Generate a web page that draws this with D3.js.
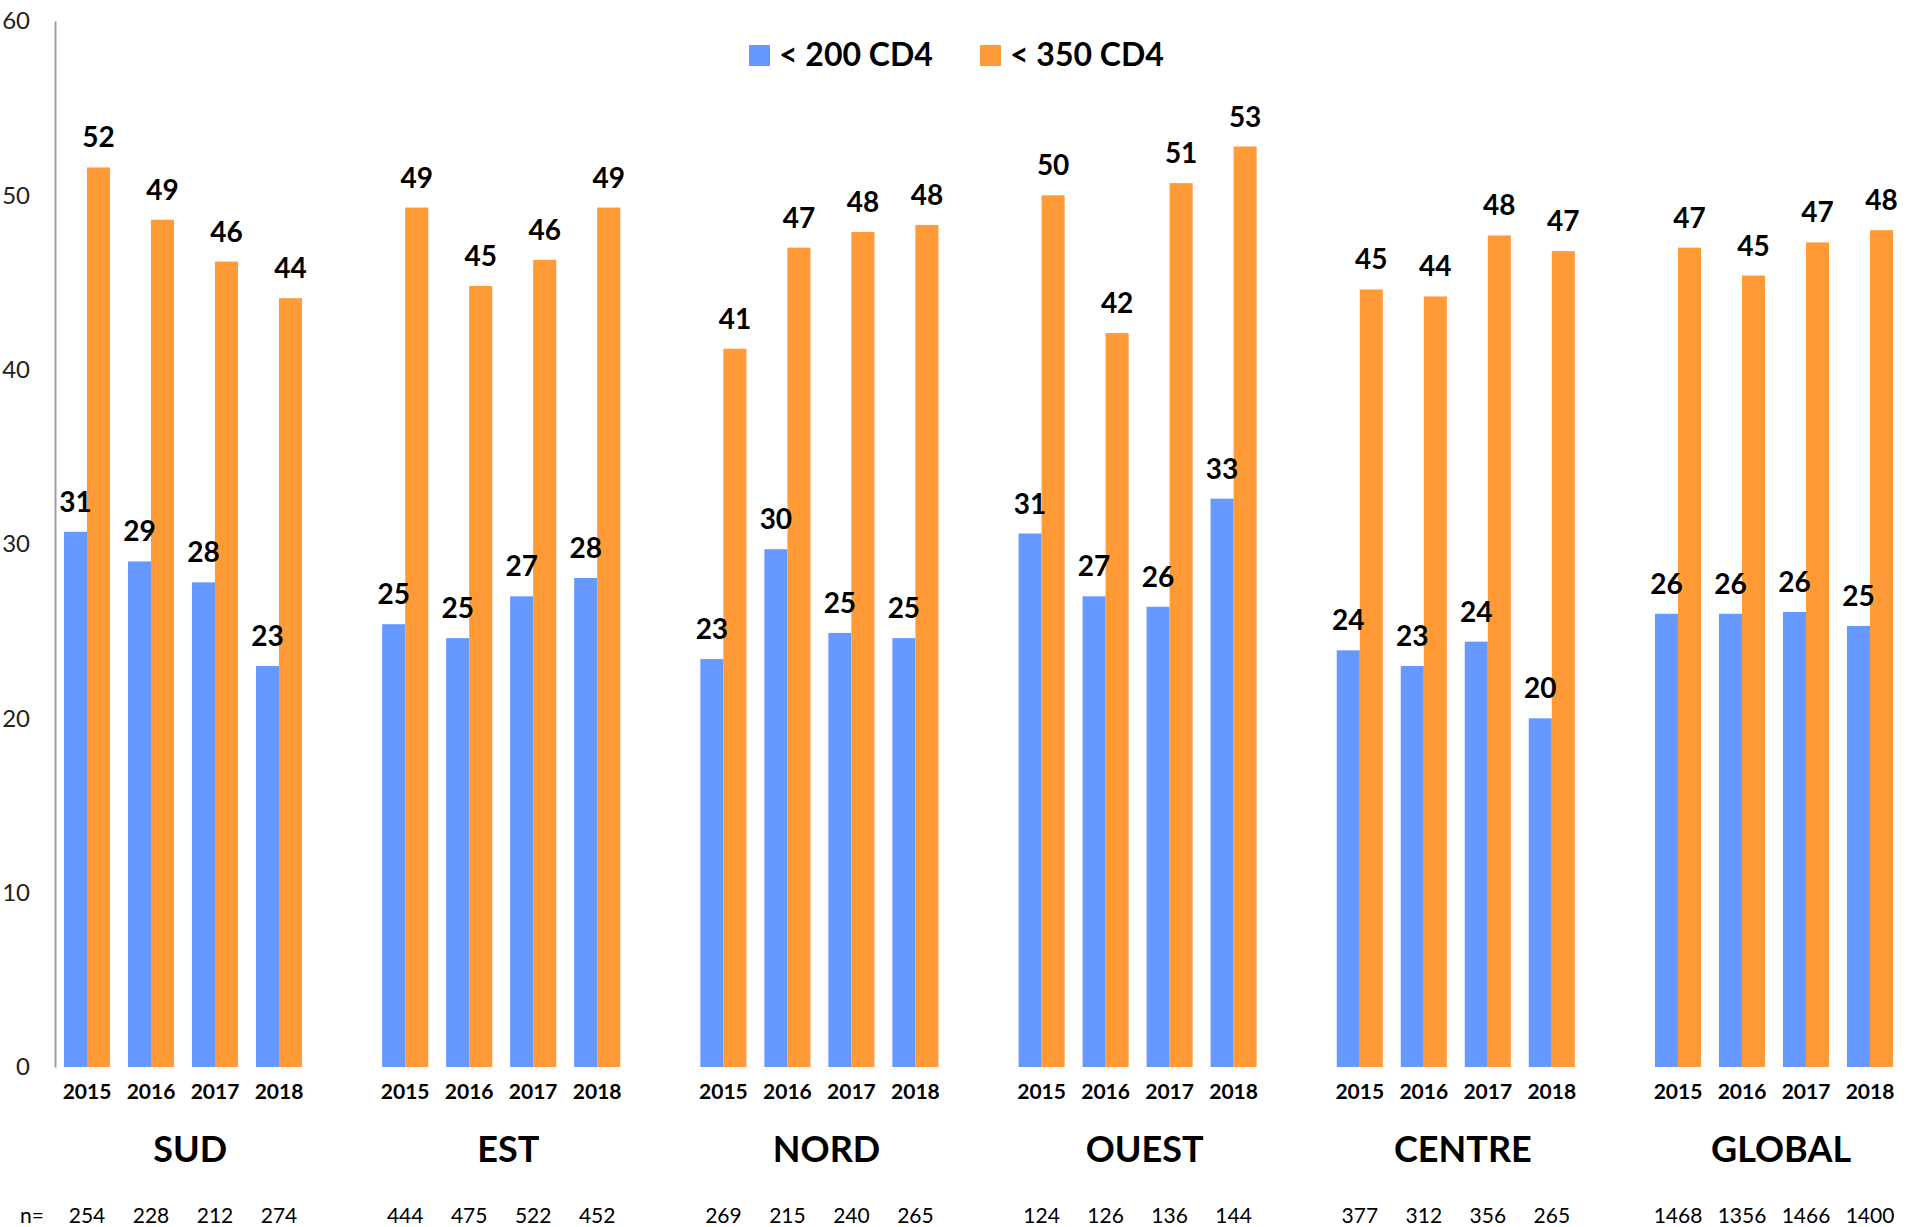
<!DOCTYPE html>
<html lang="fr">
<head>
<meta charset="UTF-8">
<title>CD4</title>
<script src="https://d3js.org/d3.v7.min.js"></script>
<style>
    body { margin: 0; background: #fff; }
    svg { display: block; font-family: Lato, "Open Sans", sans-serif; }
    .axis path { stroke: #a0a0a0; stroke-width: 2; }
    .axis line { display: none; }
    .axis text { font-size: 24px; fill: #222; font-family: Lato, sans-serif; }
</style>
</head>
<body>
<svg width="1907" height="1227"></svg>
<script>

    var regions = ['SUD', 'EST', 'NORD', 'OUEST', 'CENTRE', 'GLOBAL'];
    var years = ['2015', '2016', '2017', '2018'];
    var seriesNames = ['< 200 CD4', '< 350 CD4'];
    var colors = ['#6699ff', '#ff9a36'];

    // values per region, one per year
    var below200 = [
        [30.7, 29.0, 27.8, 23.0],
        [25.4, 24.6, 27.0, 28.05],
        [23.4, 29.7, 24.9, 24.6],
        [30.6, 27.0, 26.4, 32.6],
        [23.9, 23.0, 24.4, 20.0],
        [26.0, 26.0, 26.1, 25.3]
    ];
    var below350 = [
        [51.6, 48.6, 46.2, 44.1],
        [49.3, 44.8, 46.3, 49.3],
        [41.2, 47.0, 47.9, 48.3],
        [50.0, 42.1, 50.7, 52.8],
        [44.6, 44.2, 47.7, 46.8],
        [47.0, 45.4, 47.3, 48.0]
    ];
    var counts = [
        [254, 228, 212, 274],
        [444, 475, 522, 452],
        [269, 215, 240, 265],
        [124, 126, 136, 144],
        [377, 312, 356, 265],
        [1468, 1356, 1466, 1400]
    ];
    var yTicks = [0, 10, 20, 30, 40, 50, 60];

    var svg = d3.select('svg');

    var x0 = d3.scaleBand()
        .domain(regions)
        .range([24, 24 + 6 * 318.2]);

    var x1 = d3.scaleBand()
        .domain(years)
        .range([31, 287])
        .paddingInner(0.28)
        .paddingOuter(0.14);

    var x2 = d3.scaleBand()
        .domain([0, 1])
        .range([0, x1.bandwidth()]);

    var y = d3.scaleLinear()
        .domain([0, 60])
        .range([1067, 21]);

    var yAxis = d3.axisLeft(y)
        .tickValues(yTicks)
        .tickSize(0)
        .tickSizeOuter(0)
        .tickPadding(25);

    svg.append('g')
        .attr('class', 'axis')
        .attr('transform', 'translate(55,0)')
        .call(yAxis);

    var rows = [];
    regions.forEach(function (r, i) {
        years.forEach(function (yr, j) {
            [below200[i][j], below350[i][j]].forEach(function (v, k) {
                rows.push({ region: r, year: yr, s: k, value: v });
            });
        });
    });

    function barX(d) {
        return x0(d.region) + x1(d.year) + x2(d.s);
    }

    svg.append('g').selectAll('rect')
        .data(rows)
        .enter().append('rect')
        .attr('x', barX)
        .attr('y', function (d) { return y(d.value); })
        .attr('width', x2.bandwidth())
        .attr('height', function (d) { return y(0) - y(d.value); })
        .attr('fill', function (d) { return colors[d.s]; });

    svg.append('g').selectAll('text')
        .data(rows)
        .enter().append('text')
        .attr('x', function (d) { return barX(d) + x2.bandwidth() / 2; })
        .attr('y', function (d) { return y(d.value) - 20; })
        .attr('text-anchor', 'middle')
        .style('font-size', '28px')
        .style('font-weight', 'bold')
        .text(function (d) { return Math.round(d.value); });

    // year labels and n counts
    var cells = [];
    regions.forEach(function (r, i) {
        years.forEach(function (yr, j) {
            cells.push({ region: r, year: yr, n: counts[i][j] });
        });
    });

    function cellX(d) {
        return x0(d.region) + x1(d.year) + x1.bandwidth() / 2;
    }

    svg.append('g').selectAll('text')
        .data(cells)
        .enter().append('text')
        .attr('x', cellX)
        .attr('y', 1099)
        .attr('text-anchor', 'middle')
        .style('font-size', '21px')
        .style('font-weight', 'bold')
        .text(function (d) { return d.year; });

    svg.append('g').selectAll('text')
        .data(cells)
        .enter().append('text')
        .attr('x', cellX)
        .attr('y', 1223)
        .attr('text-anchor', 'middle')
        .style('font-size', '21px')
        .text(function (d) { return d.n; });

    svg.append('text')
        .attr('x', 20)
        .attr('y', 1223)
        .style('font-size', '21px')
        .text('n=');

    svg.append('g').selectAll('text')
        .data(regions)
        .enter().append('text')
        .attr('x', function (d) { return x0(d) + x0.bandwidth() / 2 + 7; })
        .attr('y', 1162)
        .attr('text-anchor', 'middle')
        .style('font-size', '36px')
        .style('font-weight', 'bold')
        .text(function (d) { return d; });

    // legend
    var legend = svg.append('g').selectAll('g')
        .data(seriesNames)
        .enter().append('g')
        .attr('transform', function (d, i) { return 'translate(' + (749 + i * 231) + ',45)'; });

    legend.append('rect')
        .attr('width', 21)
        .attr('height', 21)
        .attr('fill', function (d, i) { return colors[i]; });

    legend.append('text')
        .attr('x', 30)
        .attr('y', 21)
        .style('font-size', '32px')
        .style('font-weight', 'bold')
        .text(function (d) { return d; });

</script>
</body>
</html>
